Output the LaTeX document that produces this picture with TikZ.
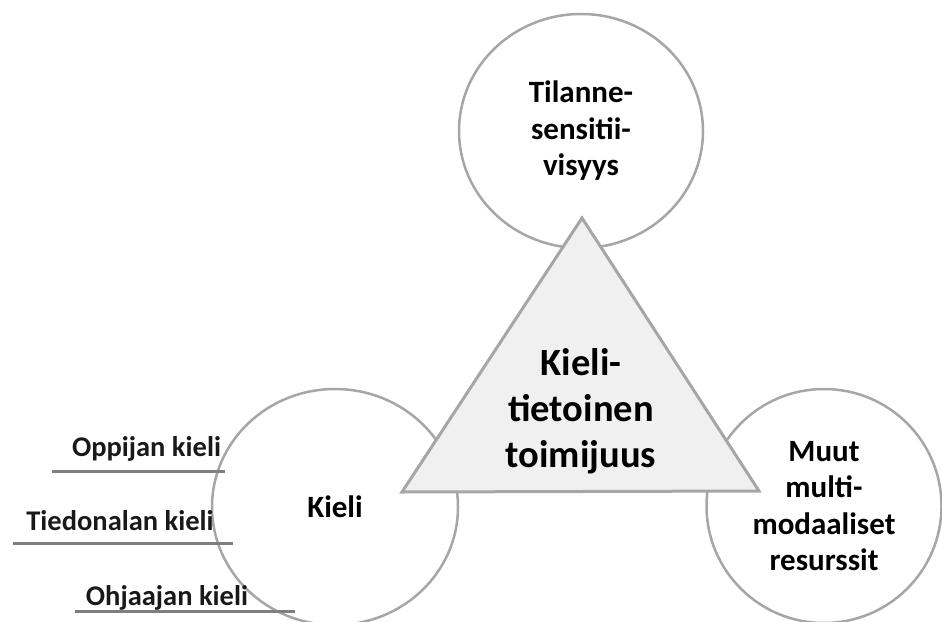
\documentclass[tikz,border=0pt]{standalone}
\usepackage{fontspec}
\setmainfont{Carlito}
\usetikzlibrary{shapes.geometric}
\definecolor{ringgray}{HTML}{A6A6A6}
\definecolor{trifill}{HTML}{F0F0F0}
\definecolor{linegray}{HTML}{7F7F7F}
\tikzset{
  ring/.style={ellipse, draw=ringgray, line width=2.5pt, fill=white, inner sep=0pt,
    align=center, font=\bfseries\fontsize{31}{36.5}\selectfont},
  tri/.style={draw=ringgray, line width=3pt, fill=trifill, line join=miter},
  centertext/.style={align=center, font=\bfseries\fontsize{38.5}{46}\selectfont},
  sidelabel/.style={anchor=base, inner sep=0pt, font=\bfseries\fontsize{28.5}{34}\selectfont, text=black!90},
  rule/.style={draw=linegray, line width=3pt}
}
\begin{document}
\begin{tikzpicture}[x=1pt,y=-1pt]
\useasboundingbox (0,0) rectangle (942,621);
\begin{scope}
\clip (0,0) rectangle (942,621);
% circles
\node[ring, minimum width=244pt, minimum height=234pt] (tilanne) at (581,131) {Tilanne-\\sensitii-\\visyys};
\node[ring, minimum width=246pt, minimum height=236pt] (kieli) at (335,507) {Kieli};
\node[ring, minimum width=235pt, minimum height=234pt] (muut) at (824,506) {Muut\\multi-\\modaaliset\\resurssit};
% triangle
\coordinate (apex) at (582,218);
\coordinate (bl) at (402,492);
\coordinate (br) at (759,491);
\draw[tri] (apex) -- (bl) -- (br) -- cycle;
\node[centertext] (kt) at (581,411) {Kieli-\\tietoinen\\toimijuus};
% side labels
\coordinate (l1a) at (52,471);  \coordinate (l1b) at (225,471);
\coordinate (l2a) at (13,543);  \coordinate (l2b) at (233,543);
\coordinate (l3a) at (75,611);  \coordinate (l3b) at (295,611);
\draw[rule] (l1a) -- (l1b);
\draw[rule] (l2a) -- (l2b);
\draw[rule] (l3a) -- (l3b);
\node[sidelabel] (oppija) at (146.5,456) {Oppijan kieli};
\node[sidelabel] (tiedon) at (120,530) {Tiedonalan kieli};
\node[sidelabel] (ohjaaja) at (167,605) {Ohjaajan kieli};
\end{scope}
\end{tikzpicture}
\end{document}
